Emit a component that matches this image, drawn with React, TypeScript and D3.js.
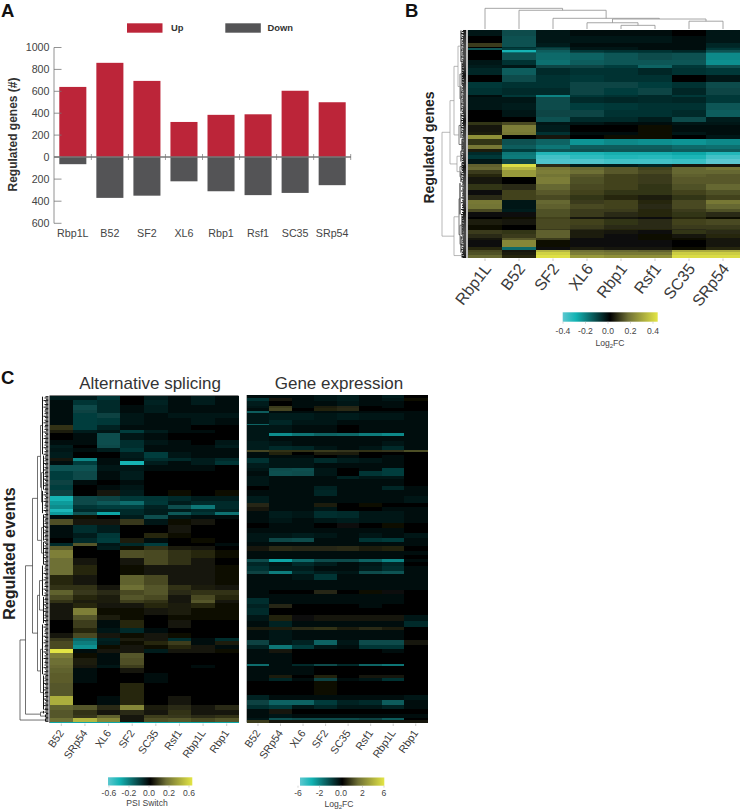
import React, { useMemo } from "react";
import * as d3 from "d3";

const FONT = '"Liberation Sans", Arial, sans-serif';

// ---------- Panel A ----------
const genesA = ["Rbp1L", "B52", "SF2", "XL6", "Rbp1", "Rsf1", "SC35", "SRp54"];
const upCounts = [640, 860, 695, 320, 385, 390, 605, 500];
const downCounts = [65, 370, 350, 220, 310, 345, 325, 255];
const yTicksUp = [1000, 800, 600, 400, 200, 0];
const yTicksDown = [200, 400, 600];

// ---------- Panel B (values in 0.01 log2FC) ----------
const genesB = ["Rbp1L", "B52", "SF2", "XL6", "Rbp1", "Rsf1", "SC35", "SRp54"];
const bandSizeB = [18,22,10,5,5,5,5,20,15,10,20,20,20,20,7,18,20,20,15,10,20,10,13,17,10,10,10,10,15,10,10,10,10,20,20,15,15,10,15,10,15,5,20,10,5,12,10,8,20,9,6,10,8];
const heatB = [
[-3,-12,-3,-2,-2,-2,-1,-3],[-1,-13,-4,-4,-4,-3,-2,-4],[8,-13,-5,-2,-2,-2,-2,-6],[-1,-8,-9,-3,-3,-2,-2,-7],[-14,-10,-11,-3,-3,-2,-2,-9],
[-1,-29,-15,-9,-8,-8,-6,-13],[-1,-18,-16,-11,-10,-9,-8,-16],[-1,-13,-17,-16,-14,-12,-13,-22],[-3,-8,-18,-15,-14,-14,-14,-23],[-5,-4,-11,-11,-10,-16,-9,-13],
[-6,-15,-7,-8,-8,-6,-8,-9],[-1,-12,-8,-9,-8,-8,-1,-4],[-9,-8,-8,-11,-11,-10,-8,-12],[-8,-7,-7,-11,-10,-11,-6,-11],[-2,-9,-21,-9,-8,-7,-9,-9],
[-3,-3,-12,-7,-6,-7,-6,-9],[-4,-5,-12,-10,-9,-8,-8,-14],[-1,-3,-11,-11,-8,-8,-7,-15],[-1,0,-13,-7,-7,-5,-12,-5],[7,10,-3,-3,-2,-2,-4,-3],
[3,18,-5,-1,-1,1,-2,-2],[4,17,-8,-2,-2,1,-3,-2],[22,0,3,-1,1,1,-1,-3],[7,-13,-16,-24,-22,-23,-24,-22],[17,-15,-19,-15,-15,-15,-17,-18],
[4,-10,-14,-13,-14,-14,-15,-15],[-7,-19,-31,-30,-28,-28,-27,-31],[-9,-20,-36,-33,-31,-32,-30,-36],[-3,-11,-38,-38,-36,-36,-35,-40],[13,38,6,-5,-5,-6,3,3],
[14,30,17,14,12,9,14,16],[8,24,18,15,12,10,14,14],[5,24,16,12,9,8,13,12],[3,-1,18,11,9,8,12,12],[7,6,14,10,9,7,11,14],
[2,9,12,9,7,7,9,11],[6,9,10,7,5,4,7,9],[17,-3,14,8,9,5,10,17],[16,-4,13,10,9,6,10,14],[10,-5,11,8,8,5,8,11],
[2,2,11,8,6,5,7,6],[0,1,9,3,3,2,5,1],[4,3,10,9,7,6,9,10],[1,0,10,8,6,6,8,8],[1,-1,8,6,5,5,6,7],
[8,7,13,4,3,2,7,6],[6,8,13,4,2,1,3,5],[3,12,8,2,2,1,1,3],[2,20,1,2,2,2,0,3],[5,-17,2,4,3,3,1,5],
[10,3,30,15,14,13,28,28],[11,4,36,18,17,17,35,35],[14,5,39,24,22,22,38,38]
];

// ---------- Panel C, alternative splicing (values in units of 0.0125 PSI) ----------
const genesC = ["B52", "SRp54", "XL6", "SF2", "SC35", "Rsf1", "Rbp1L", "Rbp1"];
const bandSizeAS = [13,15,15,10,15,20,15,10,20,15,10,12,18,10,10,20,25,15,15,20,13,12,12,10,10,10,18,25,15,15,10,10,25,20,30,30,15,15,15,10,15,20,15,25,15,15,10,10,13,12,15,20,10,15,30,38,27,15,15,10,12,3];
const heatAS = [
[-6,-6,-10,-1,-5,-3,-6,-3],[-3,-10,-8,-1,-7,-3,-6,-3],[-2,-14,-8,-2,-5,-2,-3,-2],[-3,-13,-8,-3,-5,-3,-3,-3],[-3,-12,-13,-4,-3,-4,-4,-4],
[-2,-12,-11,-4,-3,-2,-4,-3],[8,-12,-7,-3,-2,-2,1,-1],[5,-6,-4,-12,-5,-2,-3,-1],[-1,-3,-15,-4,-3,-1,-1,-1],[-2,-3,-15,-9,-4,-2,-1,-4],
[-5,-1,-14,-9,-3,-2,-3,-5],[-4,-2,-5,-11,-3,-2,-3,-3],[-5,-1,-1,-5,-12,-4,-2,-3],[3,-26,-3,-4,-9,-8,-5,-8],[-3,-12,-2,-35,-5,-3,-6,-10],
[-16,-16,-4,-4,-3,-2,-2,-1],[-12,-14,-3,-5,-1,-1,-1,-1],[-13,-2,-1,-3,-1,-1,0,0],[-12,0,-2,-4,-1,0,0,0],[-13,1,3,-6,1,2,1,2],
[-35,-14,-13,-11,-10,-8,-5,-6],[-30,-14,-17,-21,-11,-6,-8,-8],[-27,-10,-12,-12,-7,-15,-23,-8],[-37,-8,-8,-8,-5,-6,-8,-7],[-30,-16,-32,-8,-6,-17,-10,-22],
[-3,2,-1,-5,-15,-4,-3,-3],[13,3,4,9,-4,2,3,-1],[-2,-9,-5,0,-1,3,1,-1],[-2,-6,-11,-1,6,2,-1,-1],[-1,-8,-12,5,-2,0,2,0],
[-8,14,-4,-8,-12,-1,-1,-2],[15,-1,-5,2,8,5,3,1],[22,0,-1,13,12,8,6,2],[18,4,0,4,12,8,4,1],[18,6,0,2,4,3,3,2],
[6,3,1,16,12,4,3,2],[8,8,3,18,14,8,5,4],[16,9,7,12,14,7,8,8],[12,6,5,14,12,3,12,6],
[8,5,5,10,8,4,14,3],[4,6,3,4,6,5,6,2],[3,22,2,2,3,5,2,2],[3,14,5,2,0,2,2,2],[1,10,-2,6,0,4,0,0],
[1,6,-4,-8,-3,0,0,0],[4,12,3,2,3,2,1,0],[9,-20,-7,5,3,-9,-3,-9],[12,-24,-6,2,6,10,-2,5],[12,-28,2,4,2,6,4,-2],
[48,-3,3,4,-5,4,4,2],[22,2,-3,14,1,1,1,1],[18,5,-3,13,0,1,0,0],[17,4,-4,10,-1,0,-2,-1],[16,-2,-1,3,-1,0,0,0],
[15,-3,-1,0,-2,-1,-1,-1],[14,-1,0,6,0,0,0,0],[34,1,-3,6,0,3,0,1],[16,14,7,24,5,7,4,7],[14,8,4,7,3,8,3,4],
[14,9,16,4,10,9,7,8],[18,36,24,3,13,14,12,14],[-32,-32,-32,-32,-32,-32,-32,-32]
];

// ---------- Panel C, gene expression (log2FC) ----------
const bandSizeGE = [9,8,17,6,8,6,20,12,3,25,10,15,15,10,8,7,10,15,15,10,13,10,22,12,16,22,12,13,20,15,15,15,15,13,10,17,10,13,10,12,14,8,18,30,12,13,17,13,20,20,17,10,28,15,13,12,32,8,25,10,10,40,17,13,13,14,13,7,6];
const heatGE = [
[-.4,-.3,-.3,-.5,-.7,-.4,-.7,-.1],[-1.2,.4,-.3,-.5,-.7,-.3,-.6,.2],[-.7,-.1,-.3,-.3,-.6,-.2,-.3,0],[-.6,1.2,-.2,.6,.8,-.1,-.2,0],[-.4,1.4,0,.7,.9,-.1,-.1,.1],
[-2.2,-.2,-.2,-.2,-.3,-.2,-.2,-.2],[-.5,-.7,-.7,-.6,-.7,-.5,-.5,-.3],[-.5,-.9,-.6,-.5,-.4,-.3,-.3,-.2],[-2.4,-.9,-.6,-.5,-.4,-.3,-.3,-.2],[-.6,-.5,-.4,-.2,-.1,-.2,-.3,-.2],
[-.5,-3.4,-2.8,-2.4,-2.5,-3,-3.3,-.3],[-.6,-.4,-.3,-.3,-.3,-.3,-.3,-.2],[-.7,-.5,-.3,-.4,-.4,-.3,-.5,-.2],[-.7,-1,-.9,-.5,-.4,-.6,-1,-.2],[1.4,1,1,1.2,1.1,1,1.1,1.6],
[-.3,.7,-.1,.6,.6,-.1,.1,-.1],[-.3,-.2,-.2,-.1,-.2,-.1,-.2,0],[-1.2,-.6,-.6,-1,-.7,-.5,-.4,-.1],[-.7,-.5,-.5,-.4,-.3,-.3,-.3,-.1],[-.5,-1.8,-1.9,-.6,0,-.3,-1.5,-.1],
[-.4,-1.9,-1.8,-.5,-.1,-1.3,-1.5,-.1],[-.5,-.4,-.4,-.3,-.8,-.5,-.5,-.1],[-.5,-.2,-.2,-.4,-.3,-.2,-.2,-.1],[-.1,-.2,-.2,-.8,-.4,-.3,-.9,-.2],[-.2,-.2,-.2,-.9,-.3,-.3,-.3,-.2],
[-.7,-.4,-.3,-.3,-.3,-.2,-.2,-.5],[.8,-.2,-.2,.6,.1,.2,.1,-.1],[.5,-.4,-.2,-.5,-.1,-.1,-.3,-.3],[-.4,-.7,-.6,-1.1,-1,-.6,-.6,-.4],[-.4,-.5,-.4,-.6,-.7,-.5,-.5,-.4],
[-.1,-.2,-.2,0,.3,.1,.2,0],[-.4,-.4,-.3,-.2,-.2,-.2,-.2,-.1],[-.6,-.5,-.7,-.6,-.3,-.5,-.4,-.6],[-.5,-1.7,-1.8,-.4,-.2,-1.3,-1.4,-.3],[-.4,-.4,-.3,-.3,-.2,-.3,-.4,-.2],
[.4,.9,.8,.8,.9,.6,.7,-.1],[-.4,-.3,-.3,-.3,-.3,-.2,-.2,-.2],[-.4,-.3,-.2,-.2,-.2,-.2,-.2,-.1],[-1.8,-4,-2.6,-1.8,-1.8,-2.4,-3.2,-.3],[-.9,-.5,-1,-.7,-.3,-.5,-.9,-.1],
[-1.2,-.7,-.7,-.4,-.4,-.7,-1.1,-.2],[-1.6,-3,-1,-.7,-.6,-1.8,-2,-.2],[-.4,-.4,-.5,-1.3,-.4,-.4,-.3,-.2],[-.4,-.3,-.3,-.4,-.2,-.2,-.2,-.2],[-.4,-.1,-.1,.8,.1,.2,.3,0],
[-.4,-.4,-.3,-.2,-.2,-.3,-.3,-.1],[-1.1,-.4,-.2,-.2,-.4,-.2,-.2,-.1],[-.8,.8,.1,-.1,0,-.2,-.1,0],[-1,-.1,-.1,-.1,-.1,-.1,-.1,-.1],[-.6,.7,.3,.4,.4,.4,.5,-.6],
[-.4,-.8,-.3,-.3,-.3,-.3,-.4,-1],[.6,.6,.9,1,.6,.9,.6,-.1],[-.3,-.5,-.4,-.2,-.3,-.3,-.3,-.1],[-1.6,-.5,-.8,-2.4,-.5,-1.8,-1.8,.4],[-.8,-2.8,-1.4,-.6,-.3,-1.3,-1.3,-.1],
[-.4,.5,-.1,0,0,-.1,-.2,-.1],[-.3,-.2,-.1,-.1,-.1,-.1,-.1,-.1],[-2.6,-.2,-1,-1.8,-1,-2.4,-2.8,-.1],[-.4,-.2,-.2,-.1,-.1,-.1,-.1,-.1],[-.3,.6,.1,.7,.1,.5,.5,.1],
[-.3,-.9,-.2,-1.6,-.2,-.5,-1.2,0],[-.1,0,.1,.2,.1,0,0,.1],[-.8,-.3,-.2,-.2,-.2,-.2,-.2,-.5],[-1.6,-2.4,-2.4,-1.4,-.8,-1,-2.2,-.3],[-1.1,-1.4,-.6,-.9,-.6,-.6,-.8,-.4],
[-.4,.5,-.1,0,-.1,-.1,-.1,-.1],[-.3,-.6,-.3,-.2,-.2,-.2,-.2,-.3],[-.6,-2,-1.8,-1.8,-1.8,-1.6,-2.2,-.1],[1.2,.5,.5,.5,.5,.5,.5,.5]
];

// ---------- Dendrograms: [height, child, child] or [height, leaves] ----------
type TreeNode = [number, number] | [number, TreeNode, TreeNode];
const colTreeB: any = [26.5, [1], [24, [2], [13.7, [3], [12.8, [8, [4], [4.7, [5], [6]]], [10, [7], [8]]]]]];
const columnLeavesB = ["Rbp1L", "B52", "SF2", "XL6", "Rbp1", "Rsf1", "SC35", "SRp54"];

const rowTreeB: TreeNode = [24,
  [16,
    [12, [8, [5, 33], [6, [4, 24], [5, 27]]], [7, [5, 27], [4, 12]]],
    [9, [5, 12], [6, [4, 9], [5, 12]]]],
  [12, [7, [6, 33], [6, [4, 21], [5, 18]]], [4, 5]]];
const rowTreeC: TreeNode = [28.5,
  [23,
    [16,
      [11, [8, [6, 45], [7, [5, 27], [6, 18]]], [7, [5, 21], [5, 18]]],
      [11, [9, [6, 24], [5, 21]], [8, [6, 39], [5, 27]]]],
    [8, [5, 3], [3, 3]]],
  [3, 3]];
const leafReach = [3, 4, 2.5, 5, 3.5, 2.5, 4, 3, 5, 3, 3.5, 4];

// ---------- Colour legends ----------
const legendB = ["-0.4", "-0.2", "0.0", "0.2", "0.4"];
const legendAS = ["-0.6", "-0.2", "0.0", "0.2", "0.6"];
const legendGE = ["-6", "-2", "0.0", "2", "6"];
const rampStops = [-1, -0.72, 0, 0.38, 1];
const rampColors = ["#5cc8d0", "#12b3b3", "#000000", "#6f7035", "#e3e545"];

const ramp = d3.scaleLinear<string>().domain(rampStops).range(rampColors).clamp(true);

function Heat({ id, rows, sizes, cols, x0, x1, y0, y1, unit }: any) {
  const x = d3.scaleBand<string>().domain(cols).range([x0, x1]);
  const cum = Array.from(d3.cumsum(sizes as number[])) as number[];
  const y = d3.scaleLinear().domain([0, cum[cum.length - 1]]).range([y0, y1]);
  return (
    <g filter={`url(#${id})`}>
      <rect x={x0} y={y0} width={x1 - x0} height={y1 - y0} fill="#000" />
      {rows.map((r: number[], i: number) =>
        r.map((v, j) => (
          <rect
            key={`${i}-${j}`}
            x={x(cols[j])}
            y={y(i ? cum[i - 1] : 0)}
            width={x.bandwidth() + 0.5}
            height={y(cum[i]) - y(i ? cum[i - 1] : 0) + 0.3}
            fill={ramp(v / unit)}
            shapeRendering="crispEdges"
          />
        ))
      )}
    </g>
  );
}

function RowDendro({ tree, edge, y0, y1, gray, color }: any) {
  const segs = useMemo(() => {
    const root = d3.hierarchy<any>(tree, (d) => (d.length === 3 ? d.slice(1) : null));
    let total = 0;
    root.leaves().forEach((l) => (total += l.data[1]));
    const y = d3.scaleLinear().domain([0, total]).range([y0, y1]);
    const x = (h: number) => edge - h;
    const out: { d: string; c: string; w: number }[] = [];
    let cursor = 0;
    const place = (n: any) => {
      if (n.children) {
        n.children.forEach(place);
        n.py = (n.children[0].py + n.children[1].py) / 2;
        const [a, b] = n.children;
        const c = n.data[0] > gray ? "#9a9a9a" : color;
        out.push({
          d: `M${x(a.data[0])},${a.py}H${x(n.data[0])}V${b.py}H${x(b.data[0])}`,
          c,
          w: 0.7,
        });
      } else {
        const [h, count] = n.data;
        const start = cursor;
        cursor += count;
        n.py = y((start + cursor) / 2);
        let d = `M${x(h)},${y(start + 0.5)}V${y(cursor - 0.5)}`;
        for (let i = 0; i < count; i++) {
          const yy = y(start + i + 0.5);
          const reach = Math.min(h, leafReach[(start + i) % leafReach.length]);
          d += `M${edge},${yy}H${edge - reach}`;
        }
        out.push({ d, c: "#0a0a0a", w: 0.95 });
      }
    };
    place(root);
    return out;
  }, [tree, edge, y0, y1, gray, color]);
  return (
    <g fill="none">
      {segs.map((s, i) => (
        <path key={i} d={s.d} stroke={s.c} strokeWidth={s.w} />
      ))}
    </g>
  );
}

function ColDendro({ x0, x1, bottom }: any) {
  const x = d3.scaleBand<string>().domain(columnLeavesB).range([x0, x1]);
  const paths = useMemo(() => {
    const y = (h: number) => bottom - h * 0.78;
    const segs: string[] = [];
    const walk = (n: any): { px: number; h: number } => {
      if (n.length === 1) {
        return { px: x(columnLeavesB[n[0] - 1])! + x.bandwidth() / 2, h: 0 };
      }
      const a = walk(n[1]);
      const b = walk(n[2]);
      segs.push(`M${a.px},${y(a.h)}V${y(n[0])}H${b.px}V${y(b.h)}`);
      return { px: (a.px + b.px) / 2, h: n[0] };
    };
    walk(colTreeB);
    return segs;
  }, [x0, x1, bottom]);
  return (
    <g fill="none" stroke="#8f8f8f" strokeWidth={0.8}>
      {paths.map((d, i) => (
        <path key={i} d={d} />
      ))}
    </g>
  );
}

function ColorBar({ id, x0, x1, y0, y1, labels, lx0, lx1, ly, title, sub, tx, ty }: any) {
  const lx = d3.scalePoint<string>().domain(labels).range([lx0, lx1]);
  return (
    <g fontFamily={FONT} fill="#444">
      <defs>
        <linearGradient id={id} x1="0" x2="1" y1="0" y2="0">
          {rampStops.map((s, i) => (
            <stop key={i} offset={(s + 1) / 2} stopColor={rampColors[i]} />
          ))}
        </linearGradient>
      </defs>
      <rect x={x0} y={y0} width={x1 - x0} height={y1 - y0} fill={`url(#${id})`} />
      {labels.map((l: string) => (
        <g key={l}>
          <line x1={lx(l)} x2={lx(l)} y1={y1} y2={y1 + 2} stroke="#bbb" strokeWidth={0.6} />
          <text x={lx(l)} y={ly} textAnchor="middle" fontSize={8.6}>{l}</text>
        </g>
      ))}
      <text x={tx} y={ty} textAnchor="middle" fontSize={8.6}>
        {title}
        {sub && <tspan fontSize={6} dy={2}>{sub}</tspan>}
        {sub && <tspan dy={-2}>FC</tspan>}
      </text>
    </g>
  );
}

function RotLabels({ cols, x0, x1, y, size, angle, dx, tickTop }: any) {
  const x = d3.scaleBand<string>().domain(cols).range([x0, x1]);
  return (
    <g fontFamily={FONT} fill="#3a3a3a" fontSize={size}>
      {cols.map((c: string) => {
        const px = x(c)! + x.bandwidth() / 2;
        return (
          <g key={c}>
            <line x1={px} x2={px} y1={tickTop} y2={tickTop + 2.5} stroke="#aaa" strokeWidth={0.6} />
            <text
              transform={`translate(${px + dx},${y}) rotate(${angle})`}
              textAnchor="end"
            >
              {c}
            </text>
          </g>
        );
      })}
    </g>
  );
}

export default function App() {
  const xA = d3.scaleBand<string>().domain(genesA).range([54.3, 350.7]).paddingInner(0.27).paddingOuter(0.135);
  const yUp = d3.scaleLinear().domain([0, 1000]).range([157, 47.5]);
  const yDown = d3.scaleLinear().domain([0, 600]).range([157, 223.3]);
  const boundaries = d3.scaleLinear().domain([0, 8]).range([54.3, 350.7]);
  const red = "#bc2539";
  return (
    <svg
      width={740}
      height={810}
      viewBox="0 0 740 810"
      style={{ position: "absolute", left: 0, top: 0, display: "block", background: "#fff" }}
    >
      <defs>
        {["blurB", "blurAS", "blurGE"].map((id) => (
          <filter key={id} id={id} x="-2%" y="-2%" width="104%" height="104%">
            <feGaussianBlur stdDeviation="0.45" />
          </filter>
        ))}
      </defs>

      {/* Panel letters */}
      <g fontFamily={FONT} fontWeight="bold" fontSize={18.5} fill="#111">
        <text x={1} y={16.8}>A</text>
        <text x={405} y={16.8}>B</text>
        <text x={1} y={384}>C</text>
      </g>

      {/* Panel A */}
      <rect x={127} y={23.3} width={35.5} height={9.4} fill={red} />
      <rect x={225.3} y={23.3} width={35.5} height={9.4} fill="#545456" />
      <g fontFamily={FONT} fontWeight="bold" fontSize={9.4} fill="#333">
        <text x={171} y={31.3}>Up</text>
        <text x={267.5} y={31.3}>Down</text>
      </g>
      {genesA.map((g, i) => (
        <g key={g}>
          <rect x={xA(g)} y={yUp(upCounts[i])} width={xA.bandwidth()} height={yUp(0) - yUp(upCounts[i])} fill={red} />
          <rect x={xA(g)} y={yDown(0)} width={xA.bandwidth()} height={yDown(downCounts[i]) - yDown(0)} fill="#545456" />
          <text x={xA(g)! + xA.bandwidth() / 2} y={237} textAnchor="middle" fontFamily={FONT} fontSize={10.7} fill="#444">{g}</text>
        </g>
      ))}
      <line x1={54} x2={54} y1={47.5} y2={223.3} stroke="#777" strokeWidth={0.8} />
      {yTicksUp.map((t) => (
        <g key={`u${t}`}>
          <line x1={54} x2={61.5} y1={yUp(t)} y2={yUp(t)} stroke="#777" strokeWidth={0.8} />
          <text x={49.5} y={yUp(t) + 3.8} textAnchor="end" fontFamily={FONT} fontSize={10.7} fill="#444">{t}</text>
        </g>
      ))}
      {yTicksDown.map((t) => (
        <g key={`d${t}`}>
          <line x1={54} x2={61.5} y1={yDown(t)} y2={yDown(t)} stroke="#777" strokeWidth={0.8} />
          <text x={49.5} y={yDown(t) + 3.8} textAnchor="end" fontFamily={FONT} fontSize={10.7} fill="#444">{t}</text>
        </g>
      ))}
      <line x1={54} x2={351} y1={157} y2={157} stroke="#777" strokeWidth={1.4} />
      {d3.range(1, 9).map((i) => (
        <line key={i} x1={boundaries(i)} x2={boundaries(i)} y1={154} y2={160} stroke="#777" strokeWidth={0.7} />
      ))}
      <text transform="translate(16.8,134.5) rotate(-90)" textAnchor="middle" fontFamily={FONT} fontWeight="bold" fontSize={12} fill="#333">
        Regulated genes (#)
      </text>

      {/* Panel B */}
      <ColDendro x0={468} x1={740} bottom={29} />
      <Heat id="blurB" rows={heatB} sizes={bandSizeB} cols={genesB} x0={468} x1={740} y0={30} y1={258} unit={40} />
      <rect x={466} y={30} width={2} height={228} fill="#bdbdbd" />
      <RowDendro tree={rowTreeB} edge={466} y0={30} y1={258} gray={7} color="#444" />
      <RotLabels cols={genesB} x0={468} x1={740} y={269} size={16} angle={-52} dx={7} tickTop={258.5} />
      <text transform="translate(434,147.5) rotate(-90)" textAnchor="middle" fontFamily={FONT} fontWeight="bold" fontSize={14} fill="#222">
        Regulated genes
      </text>
      <ColorBar id="gB" x0={562.7} x1={657.7} y0={312.3} y1={321.7} labels={legendB} lx0={563} lx1={653} ly={334} title="Log" sub="2" tx={610} ty={345.5} />

      {/* Panel C */}
      <text x={150} y={389} textAnchor="middle" fontFamily={FONT} fontSize={17} fill="#333">Alternative splicing</text>
      <text x={339} y={389} textAnchor="middle" fontFamily={FONT} fontSize={17} fill="#333">Gene expression</text>
      <Heat id="blurAS" rows={heatAS} sizes={bandSizeAS} cols={genesC} x0={49.5} x1={238.5} y0={395.5} y1={723} unit={48} />
      <Heat id="blurGE" rows={heatGE} sizes={bandSizeGE} cols={genesC} x0={246.7} x1={427} y0={395} y1={722.5} unit={6} />
      <RowDendro tree={rowTreeC} edge={48.5} y0={396} y1={722} gray={99} color="#333" />
      <RotLabels cols={genesC} x0={49.5} x1={238.5} y={733} size={10.7} angle={-55} dx={3} tickTop={723.5} />
      <RotLabels cols={genesC} x0={246.7} x1={427} y={733} size={10.7} angle={-55} dx={3} tickTop={723.5} />
      <text transform="translate(15,553.5) rotate(-90)" textAnchor="middle" fontFamily={FONT} fontWeight="bold" fontSize={16} fill="#222">
        Regulated events
      </text>
      <ColorBar id="gAS" x0={108} x1={192.3} y0={777.3} y1={785.5} labels={legendAS} lx0={109} lx1={189} ly={796} title="PSI Switch" tx={147} ty={806} />
      <ColorBar id="gGE" x0={300} x1={384.3} y0={777.5} y1={785.7} labels={legendGE} lx0={298} lx1={384} ly={796} title="Log" sub="2" tx={339} ty={807} />
    </svg>
  );
}
